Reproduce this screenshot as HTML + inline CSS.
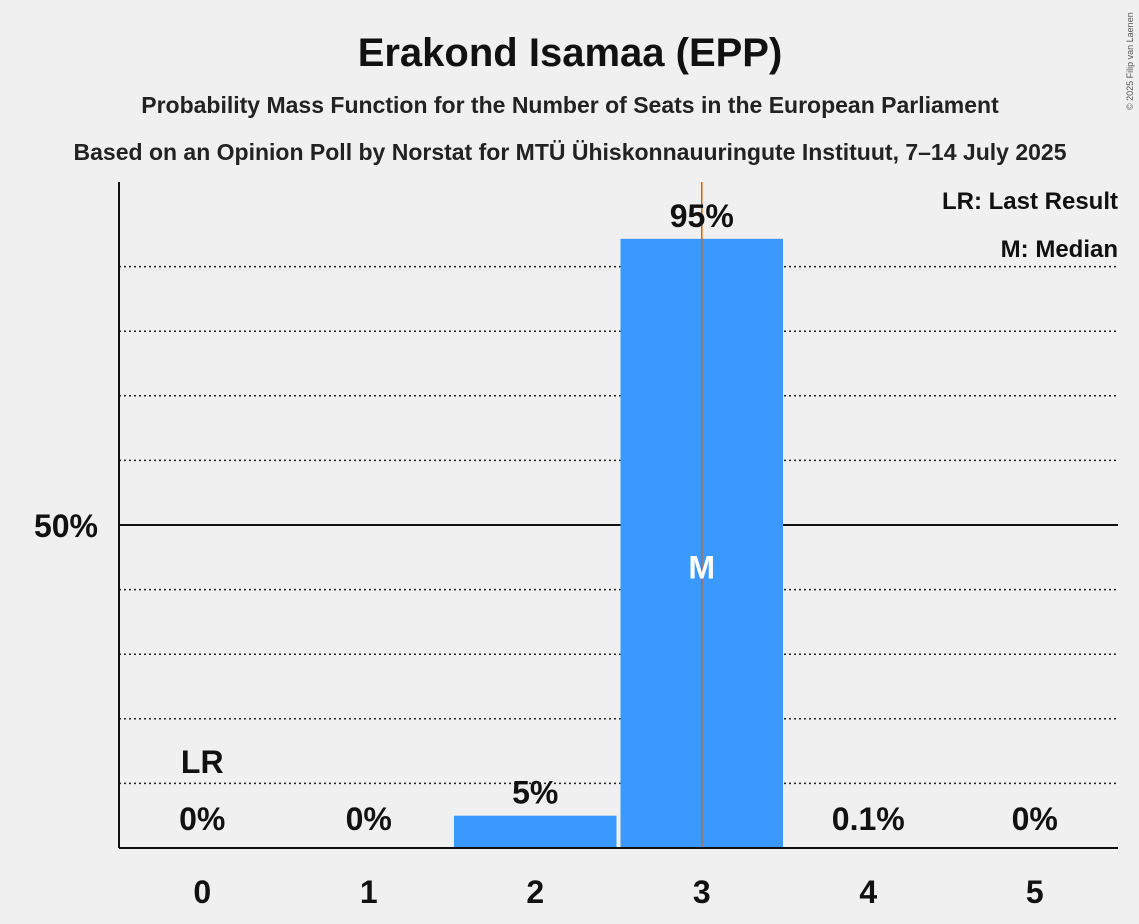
<!DOCTYPE html>
<html><head><meta charset="utf-8"><style>
body{margin:0;background:#f0f0f0;}
svg{display:block;font-family:"Liberation Sans",sans-serif;}
</style></head><body>
<svg id="chart" width="1139" height="924" viewBox="0 0 1139 924">
<rect width="1139" height="924" fill="#f0f0f0"/>
<text x="570" y="66" text-anchor="middle" font-size="40" font-weight="bold" fill="#111">Erakond Isamaa (EPP)</text>
<text x="570" y="113" text-anchor="middle" font-size="23" font-weight="bold" fill="#222">Probability Mass Function for the Number of Seats in the European Parliament</text>
<text x="570" y="160" text-anchor="middle" font-size="23" font-weight="bold" fill="#222">Based on an Opinion Poll by Norstat for MTÜ Ühiskonnauuringute Instituut, 7–14 July 2025</text>
<text x="1133" y="110" font-size="9" fill="#555" transform="rotate(-90 1133 110)">© 2025 Filip van Laenen</text>
<g id="grid"></g>
<g id="bars"></g>
<g id="labels"></g>
<text x="1118" y="209" text-anchor="end" font-size="24" font-weight="bold" fill="#111">LR: Last Result</text>
<text x="1118" y="257" text-anchor="end" font-size="24" font-weight="bold" fill="#111">M: Median</text>
</svg>
<script>
const categories=[0,1,2,3,4,5];
const values=[0,0,5,94.3,0.1,0];
const valueLabels=["0%","0%","5%","95%","0.1%","0%"];
const lastResult=0;
const median=3;
const threshold=3.5;
const ns="http://www.w3.org/2000/svg";
const x0=119,x1=1118,yb=848,yt=202;
const bw=(x1-x0)/categories.length;
const X=i=>x0+bw*i;
const Y=v=>yb-(v/100)*(yb-yt);
function mk(t,a,p){const e=document.createElementNS(ns,t);for(const k in a)e.setAttribute(k,a[k]);p.appendChild(e);return e;}
const grid=document.getElementById('grid'),bars=document.getElementById('bars'),labels=document.getElementById('labels');
for(let v=10;v<=90;v+=10){
 if(v===50)continue;
 const l=mk('line',{x1:x0,x2:x1,y1:Y(v),y2:Y(v),stroke:'#222','stroke-width':1.5,'stroke-dasharray':'2,3'},grid);
 
 
}
const g50=mk('line',{x1:x0,x2:x1,y1:Y(50),y2:Y(50),stroke:'#111','stroke-width':2},grid);


const yl=mk('text',{x:98,y:Y(50)+12,'text-anchor':'end','font-size':32,'font-weight':'bold',fill:'#111'},grid);yl.textContent='50%';


categories.forEach((c,i)=>{
 const v=values[i];
 if(v>0.5){
  const b=mk('rect',{x:X(i)+2,y:Y(v),width:bw-4,height:yb-Y(v),fill:'#3a99ff'},bars);
  
  
 }
 const cx=X(i)+bw/2;
 const inside=v>50;
 const t=mk('text',{x:cx,y:v>2?Y(v)-12:Y(0)-18,'text-anchor':'middle','font-size':32,'font-weight':'bold',fill:'#111'},labels);
 t.textContent=valueLabels[i];
 
 
 const xt=mk('text',{x:cx,y:903,'text-anchor':'middle','font-size':32,'font-weight':'bold',fill:'#111'},labels);
 xt.textContent=String(c);
 
 
 if(c===median){
  const m=mk('text',{x:cx,y:Y(v/2)+35,'text-anchor':'middle','font-size':32,'font-weight':'bold',fill:'#fff'},labels);
  m.textContent='M';
  
  
 }
 if(c===lastResult){
  const lr=mk('text',{x:cx,y:Y(0)-75,'text-anchor':'middle','font-size':32,'font-weight':'bold',fill:'#111'},labels);
  lr.textContent='LR';
  
  
 }
});
const tl=mk('line',{x1:x0+bw*threshold,x2:x0+bw*threshold,y1:182,y2:yb,stroke:'#e06000','stroke-width':1.5},bars);


const ya=mk('line',{x1:x0,x2:x0,y1:182,y2:yb,stroke:'#111','stroke-width':2},bars);


const xa=mk('line',{x1:x0,x2:x1,y1:yb,y2:yb,stroke:'#111','stroke-width':2},bars);


</script>
</body></html>
